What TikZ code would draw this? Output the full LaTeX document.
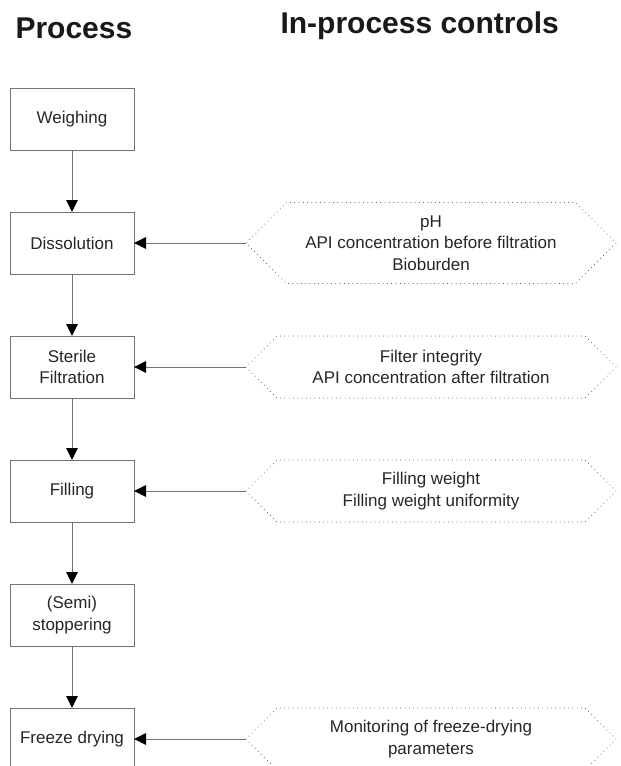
\documentclass[tikz,border=0pt]{standalone}
\usepackage{fontspec}
\setmainfont{Liberation Sans}
\usepackage{tikz}
\usetikzlibrary{shapes.symbols, arrows.meta, positioning}

\newcommand{\headfont}{\fontsize{30pt}{36pt}\selectfont\bfseries}
\newcommand{\bodyfont}{\fontsize{17pt}{21.5pt}\selectfont}

\begin{document}
\begin{tikzpicture}[x=1pt, y=1pt,
    stepbox/.style={draw=black!55, line width=0.9pt, minimum width=124pt, minimum height=62pt,
        inner sep=0pt, outer sep=0pt, align=center, font=\bodyfont, text=black!85},
    ctrlhex/.style={signal, signal to=west and east, signal pointer angle=90,
        draw=black!70, line width=1pt, line cap=round, dash pattern=on 0pt off 4.3pt,
        minimum width=370pt, minimum height=62pt, inner sep=0pt, outer sep=0pt,
        align=center, font=\bodyfont, text=black!85},
    flow/.style={draw=black!55, line width=1pt, -{Triangle[length=12pt, width=11.5pt, color=black]}}
]
    \useasboundingbox (0,0) rectangle (621,-766);

    % Headings
    \node[anchor=base west, font=\headfont, text=black!90] (hproc) at (12,-38) {Process};
    \node[anchor=base west, font=\headfont, text=black!90] (hctrl) at (277,-33) {In-process controls};

    % Process steps
    \node[stepbox] (weigh) at (72,-119) {Weighing};
    \node[stepbox, below=62pt of weigh] (diss) {Dissolution};
    \node[stepbox, below=62pt of diss] (filt) {Sterile\\Filtration};
    \node[stepbox, below=62pt of filt] (fill) {Filling};
    \node[stepbox, below=62pt of fill] (stop) {(Semi)\\stoppering};
    \node[stepbox, below=62pt of stop] (dry) {Freeze drying};

    % In-process controls
    \node[ctrlhex, minimum height=81pt, right=112pt of diss] (cdiss)
        {pH\\API concentration before filtration\\Bioburden};
    \node[ctrlhex, right=112pt of filt] (cfilt)
        {Filter integrity\\API concentration after filtration};
    \node[ctrlhex, right=112pt of fill] (cfill)
        {Filling weight\\Filling weight uniformity};
    \node[ctrlhex, right=112pt of dry] (cdry)
        {Monitoring of freeze-drying\\parameters};

    % Arrows
    \foreach \a/\b in {weigh/diss, diss/filt, filt/fill, fill/stop, stop/dry}
        \draw[flow] (\a) -- (\b);
    \foreach \c/\s in {cdiss/diss, cfilt/filt, cfill/fill, cdry/dry}
        \draw[flow] (\c.west) -- (\s.east);
\end{tikzpicture}
\end{document}
